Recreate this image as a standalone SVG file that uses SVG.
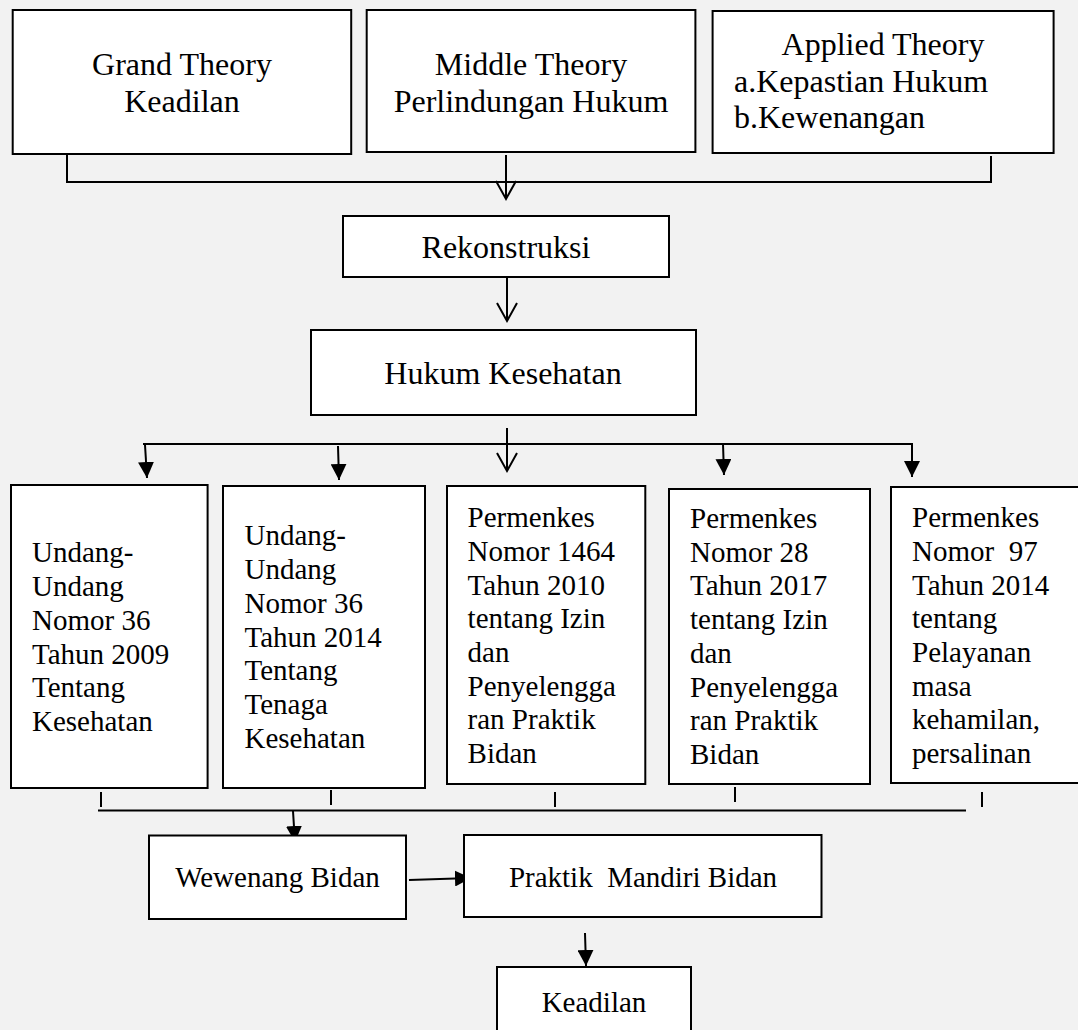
<svg xmlns="http://www.w3.org/2000/svg" width="1078" height="1030" viewBox="0 0 1078 1030">
<style>
.box{fill:#fff;stroke:#000;stroke-width:2}
.t32{font-family:"Liberation Serif","Times New Roman",serif;font-size:32px;fill:#000}
.t29{font-family:"Liberation Serif","Times New Roman",serif;font-size:29px;fill:#000}
.mid{text-anchor:middle}
.ln{fill:none;stroke:#000;stroke-width:2}
</style>
<defs>
<marker id="open" markerWidth="24" markerHeight="24" refX="20" refY="12" orient="auto" markerUnits="userSpaceOnUse"><path d="M2,2 L20,12 L2,22" fill="none" stroke="#000" stroke-width="2"/></marker>
<marker id="fill" markerWidth="18" markerHeight="16" refX="16" refY="8" orient="auto" markerUnits="userSpaceOnUse"><path d="M0,0 L16,8 L0,16 Z" fill="#000"/></marker>
</defs>
<rect width="1078" height="1030" fill="#f2f2f2"/>

<g id="connectors">
<path class="ln" d="M67,154 V182 H991 V156"/>
<line class="ln" x1="506" y1="155" x2="506" y2="199" marker-end="url(#open)"/>
<line class="ln" x1="507" y1="277" x2="507" y2="321" marker-end="url(#open)"/>
<line class="ln" x1="507" y1="428" x2="507" y2="471" marker-end="url(#open)"/>
<line class="ln" x1="143" y1="444" x2="913" y2="444"/>
<line class="ln" x1="145" y1="445" x2="147" y2="478" marker-end="url(#fill)"/>
<line class="ln" x1="338" y1="446" x2="339" y2="480" marker-end="url(#fill)"/>
<line class="ln" x1="723" y1="444" x2="724" y2="475" marker-end="url(#fill)"/>
<line class="ln" x1="912" y1="444" x2="912" y2="477" marker-end="url(#fill)"/>
<line class="ln" x1="101" y1="792" x2="101" y2="807"/>
<line class="ln" x1="331" y1="790" x2="331" y2="805"/>
<line class="ln" x1="555" y1="792" x2="555" y2="807"/>
<line class="ln" x1="735" y1="787" x2="735" y2="802"/>
<line class="ln" x1="982" y1="792" x2="982" y2="807"/>
<line class="ln" x1="98" y1="810.5" x2="966" y2="810.5"/>
<line class="ln" x1="293" y1="811" x2="295" y2="842" marker-end="url(#fill)"/>
<line class="ln" x1="409" y1="880" x2="471" y2="878" marker-end="url(#fill)"/>
<line class="ln" x1="585" y1="933" x2="586" y2="966" marker-end="url(#fill)"/>
</g>

<g id="grand-theory">
<rect class="box" x="12.7" y="10" width="338.5" height="144"/>
<text class="t32 mid" x="182" y="75">Grand Theory</text>
<text class="t32 mid" x="182" y="112">Keadilan</text>
</g>
<g id="middle-theory">
<rect class="box" x="366.7" y="10" width="328.7" height="142"/>
<text class="t32 mid" x="531" y="75">Middle Theory</text>
<text class="t32 mid" x="531" y="112">Perlindungan Hukum</text>
</g>
<g id="applied-theory">
<rect class="box" x="712.6" y="11" width="341" height="142"/>
<text class="t32 mid" x="883" y="55">Applied Theory</text>
<text class="t32" x="734" y="92">a.Kepastian Hukum</text>
<text class="t32" x="734" y="128">b.Kewenangan</text>
</g>
<g id="rekonstruksi">
<rect class="box" x="343" y="216" width="326" height="61"/>
<text class="t32 mid" x="506" y="258">Rekonstruksi</text>
</g>
<g id="hukum-kesehatan">
<rect class="box" x="311" y="330" width="385" height="85"/>
<text class="t32 mid" x="503" y="384">Hukum Kesehatan</text>
</g>

<g id="uu-36-2009">
<rect class="box" x="11" y="485" width="196.6" height="303"/>
<text class="t29" x="32" y="562">Undang-</text>
<text class="t29" x="32" y="596">Undang</text>
<text class="t29" x="32" y="630">Nomor 36</text>
<text class="t29" x="32" y="664">Tahun 2009</text>
<text class="t29" x="32" y="697">Tentang</text>
<text class="t29" x="32" y="731">Kesehatan</text>
</g>
<g id="uu-36-2014">
<rect class="box" x="223" y="486" width="202" height="302"/>
<text class="t29" x="244.5" y="545">Undang-</text>
<text class="t29" x="244.5" y="579">Undang</text>
<text class="t29" x="244.5" y="613">Nomor 36</text>
<text class="t29" x="244.5" y="647">Tahun 2014</text>
<text class="t29" x="244.5" y="680">Tentang</text>
<text class="t29" x="244.5" y="714">Tenaga</text>
<text class="t29" x="244.5" y="748">Kesehatan</text>
</g>
<g id="permenkes-1464">
<rect class="box" x="447" y="486" width="198.3" height="298"/>
<text class="t29" x="467.6" y="527">Permenkes</text>
<text class="t29" x="467.6" y="561">Nomor 1464</text>
<text class="t29" x="467.6" y="595">Tahun 2010</text>
<text class="t29" x="467.6" y="628">tentang Izin</text>
<text class="t29" x="467.6" y="662">dan</text>
<text class="t29" x="467.6" y="696">Penyelengga</text>
<text class="t29" x="467.6" y="729">ran Praktik</text>
<text class="t29" x="467.6" y="763">Bidan</text>
</g>
<g id="permenkes-28">
<rect class="box" x="669" y="489" width="201" height="295"/>
<text class="t29" x="690" y="528">Permenkes</text>
<text class="t29" x="690" y="562">Nomor 28</text>
<text class="t29" x="690" y="595">Tahun 2017</text>
<text class="t29" x="690" y="629">tentang Izin</text>
<text class="t29" x="690" y="663">dan</text>
<text class="t29" x="690" y="697">Penyelengga</text>
<text class="t29" x="690" y="730">ran Praktik</text>
<text class="t29" x="690" y="764">Bidan</text>
</g>
<g id="permenkes-97">
<rect class="box" x="891" y="487" width="200" height="296"/>
<text class="t29" x="912" y="527">Permenkes</text>
<text class="t29" x="912" y="561" xml:space="preserve">Nomor  97</text>
<text class="t29" x="912" y="595">Tahun 2014</text>
<text class="t29" x="912" y="628">tentang</text>
<text class="t29" x="912" y="662">Pelayanan</text>
<text class="t29" x="912" y="696">masa</text>
<text class="t29" x="912" y="729">kehamilan,</text>
<text class="t29" x="912" y="763">persalinan</text>
</g>

<g id="wewenang-bidan">
<rect class="box" x="149" y="835.5" width="257" height="83.5"/>
<text class="t29 mid" x="277.5" y="887">Wewenang Bidan</text>
</g>
<g id="praktik-mandiri-bidan">
<rect class="box" x="464" y="835" width="357.5" height="82"/>
<text class="t29 mid" x="643" y="887" xml:space="preserve">Praktik  Mandiri Bidan</text>
</g>
<g id="keadilan">
<rect class="box" x="497" y="967" width="194" height="80"/>
<text class="t29 mid" x="594" y="1012">Keadilan</text>
</g>
</svg>
